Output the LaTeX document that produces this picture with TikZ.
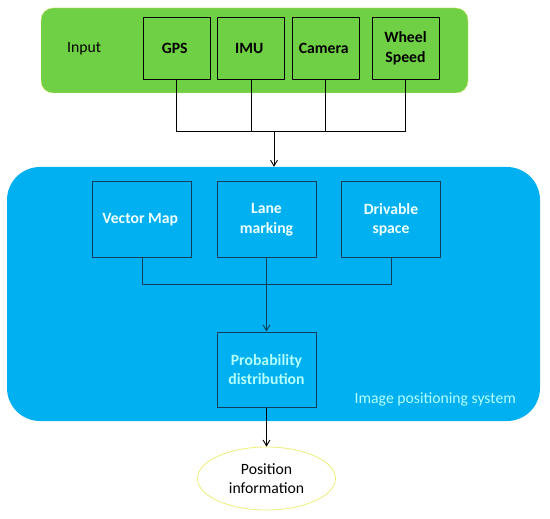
\documentclass[tikz,border=0pt]{standalone}
\usepackage{fontspec}
\setmainfont{Carlito}
\usepackage{xcolor}
\usepackage{tikz}
\usetikzlibrary{
  arrows.meta,
  positioning,
  shapes.geometric,
  calc
}
\definecolor{InputGreen}{HTML}{6FCF45}
\definecolor{PanelEdge}{HTML}{D8E86A}
\definecolor{SystemBlue}{HTML}{00B0F0}
\definecolor{DarkNavy}{HTML}{123E5C}
\definecolor{LightCyan}{HTML}{B4FFFF}
\definecolor{PaleCyan}{HTML}{EEFFFF}
\definecolor{OutYellow}{HTML}{EEEE7A}
\tikzset{
  label15/.style={
    font=\fontsize{15.7pt}{19.5pt}\selectfont,
    align=center
  },
  panel/.style={
    rounded corners=12pt,
    fill=InputGreen,
    draw=PanelEdge,
    thin
  },
  inbox/.style={
    label15,
    draw=black,
    fill=InputGreen,
    line width=0.9pt,
    minimum width=67pt,
    minimum height=62pt,
    font=\fontsize{15.7pt}{19.5pt}\selectfont\bfseries
  },
  mapbox/.style={
    label15,
    draw=DarkNavy,
    fill=SystemBlue,
    line width=1pt,
    text=PaleCyan,
    minimum width=99pt,
    minimum height=75pt,
    font=\fontsize{15.7pt}{19.5pt}\selectfont\bfseries
  },
  result/.style={
    ellipse,
    label15,
    draw=OutYellow,
    fill=white,
    thick,
    minimum width=138pt,
    minimum height=63pt
  },
  bus/.style={
    line width=0.9pt
  },
  connection/.style={
    -{Straight Barb[length=2mm,width=2.4mm]},
    line width=0.9pt
  }
}
\begin{document}
\begin{tikzpicture}[
  x=1pt,
  y=-1pt
]

  \useasboundingbox
  (0,0) rectangle
  (550,519);

  % input block
  \node[
    panel,
    minimum width=427pt,
    minimum height=85pt
  ] (inputpanel) at (254.5,50.5) {};

  \node[
    label15
  ] (inputlabel) at (86,49) {
    Input
  };

  \node[
    inbox
  ] (gps) at (176.5,48) {
    GPS
  };

  \node[
    inbox
  ] (imu) at (251,48) {
    IMU
  };

  \node[
    inbox
  ] (camera) at (325.5,48) {
    Camera
  };

  \node[
    inbox
  ] (wheel) at (405.5,48) {
    Wheel\\Speed
  };

  % positioning system
  \node[
    panel,
    rounded corners=33pt,
    fill=SystemBlue,
    draw=none,
    minimum width=533pt,
    minimum height=254pt
  ] (system) at (273.5,294) {};

  \node[
    mapbox
  ] (vmap) at (142,219.5) {
    Vector Map
  };

  \node[
    mapbox
  ] (lane) at (266.5,219.5) {
    Lane\\marking
  };

  \node[
    mapbox
  ] (space) at (391,219.5) {
    Drivable\\space
  };

  \node[
    mapbox,
    text=LightCyan
  ] (prob) at (266.5,369.5) {
    Probability\\distribution
  };

  \node[
    label15,
    text=LightCyan,
    anchor=east
  ] (syslabel) at (523,399) {
    Image positioning system
  };

  \node[
    result
  ] (position) at (266.5,478.5) {
    Position\\information
  };

  \coordinate (inbus) at (274,131);
  \coordinate (mapbus) at (266.5,284);

  \draw[bus]
  (gps.south) |-
  (inbus);

  \draw[bus]
  (wheel.south) |-
  (inbus);

  \draw[bus]
  (imu.south) --
  (imu.south |- inbus);

  \draw[bus]
  (camera.south) --
  (camera.south |- inbus);

  \draw[connection]
  (inbus) --
  (inbus |- system.north);

  \draw[bus, draw=DarkNavy]
  (vmap.south) |-
  (mapbus);

  \draw[bus, draw=DarkNavy]
  (space.south) |-
  (mapbus);

  \draw[connection, draw=DarkNavy]
  (lane.south) --
  (prob.north);

  \draw[connection]
  (prob.south) --
  (position.north);

\end{tikzpicture}
\end{document}
